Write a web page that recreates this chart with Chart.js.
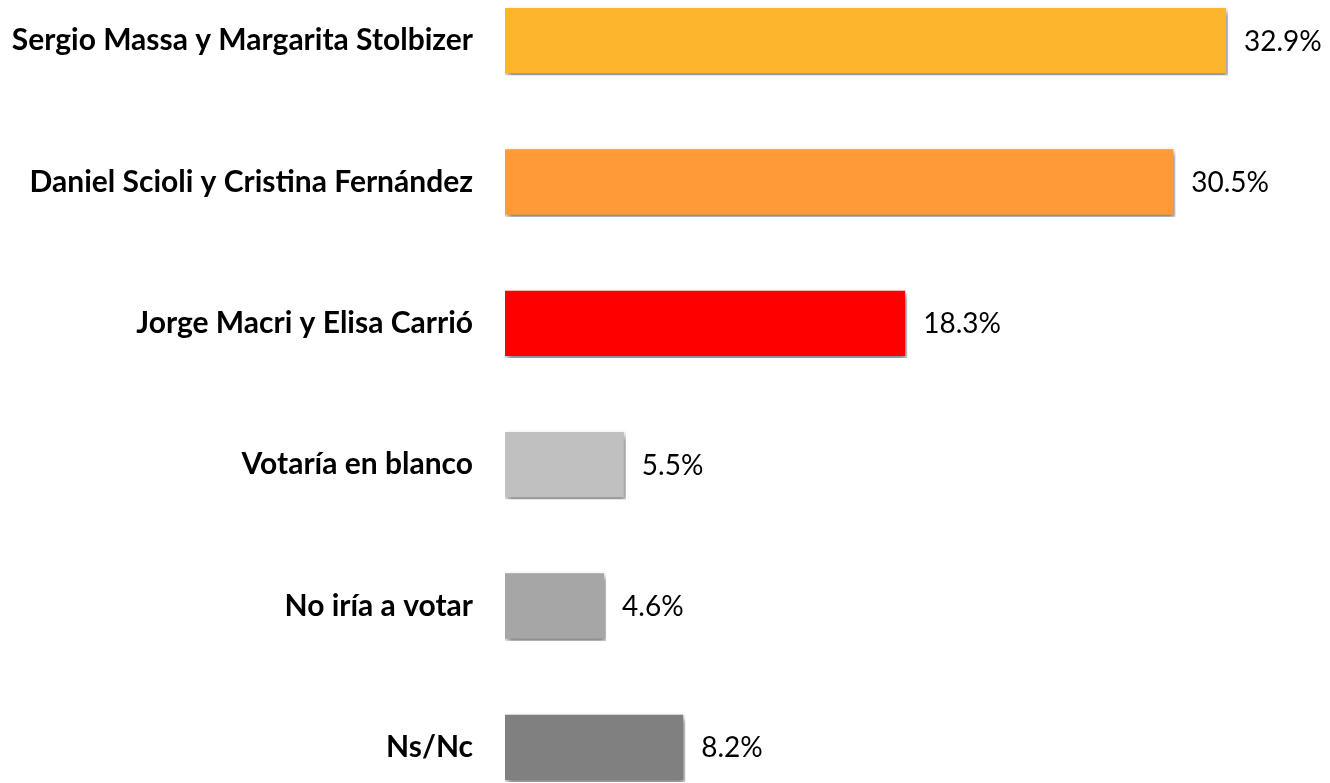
<!DOCTYPE html>
<html lang="es">
<head>
<meta charset="UTF-8">
<title>Intención de voto</title>
<script src="https://cdn.jsdelivr.net/npm/chart.js"></script>
<style>
  html, body { margin: 0; padding: 0; background: #fff; overflow: hidden; }
  #wrap { position: absolute; left: 0; top: -30px; width: 1330px; height: 848px; }
</style>
</head>
<body>
<div id="wrap">
  <canvas id="grafico" width="1330" height="848"></canvas>
</div>
<script>
const categorias = [
  "Sergio Massa y Margarita Stolbizer",
  "Daniel Scioli y Cristina Fernández",
  "Jorge Macri y Elisa Carrió",
  "Votaría en blanco",
  "No iría a votar",
  "Ns/Nc"
];
const valores = [32.9, 30.5, 18.3, 5.5, 4.6, 8.2];
const colores = ["#FDB52D", "#FE9B38", "#FF0000", "#C0C0C0", "#A6A6A6", "#808080"];

// sombra debajo de las barras
const sombra = {
  id: "sombra",
  beforeDatasetsDraw(chart) {
    const ctx = chart.ctx;
    ctx.save();
    ctx.shadowColor = "rgba(0,0,0,0.5)";
    ctx.shadowBlur = 6;
    ctx.shadowOffsetX = 2;
    ctx.shadowOffsetY = 4;
  },
  afterDatasetsDraw(chart) {
    chart.ctx.restore();
  }
};

// nombres a la izquierda y porcentaje a la derecha de cada barra
const etiquetas = {
  id: "etiquetas",
  afterDatasetsDraw(chart) {
    const ctx = chart.ctx;
    const meta = chart.getDatasetMeta(0);
    ctx.save();
    ctx.fillStyle = "#000";
    ctx.textBaseline = "middle";
    meta.data.forEach(function (barra, i) {
      ctx.font = "bold 30px Lato";
      ctx.textAlign = "right";
      ctx.fillText(categorias[i], chart.chartArea.left - 32, barra.y);
      ctx.font = "28px Lato";
      ctx.textAlign = "left";
      ctx.fillText(valores[i].toFixed(1) + "%", barra.x + 16, barra.y + 1);
    });
    ctx.restore();
  }
};

new Chart(document.getElementById("grafico"), {
  type: "bar",
  data: {
    labels: categorias,
    datasets: [{
      data: valores,
      backgroundColor: colores,
      borderColor: "#ffffff",
      borderWidth: 2,
      borderSkipped: "start",
      barPercentage: 0.49,
      categoryPercentage: 1
    }]
  },
  options: {
    indexAxis: "y",
    responsive: false,
    devicePixelRatio: 1,
    animation: false,
    layout: { padding: { left: 505, right: 0, top: 0, bottom: 0 } },
    plugins: {
      legend: { display: false },
      tooltip: { enabled: false }
    },
    scales: {
      x: { display: false, min: 0, max: 37.54 },
      y: { display: false }
    }
  },
  plugins: [sombra, etiquetas]
});
</script>
</body>
</html>
